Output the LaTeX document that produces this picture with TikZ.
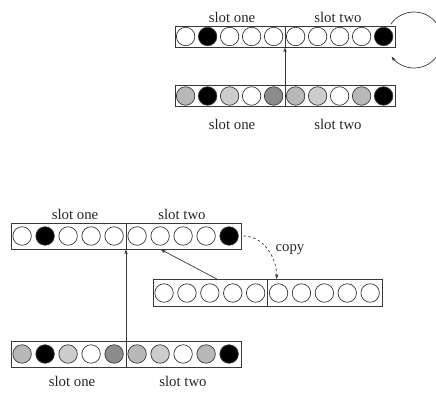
\documentclass[tikz,border=0pt]{standalone}
\usepackage{fontspec}
\setmainfont{Liberation Serif}
\usetikzlibrary{arrows.meta,calc}

\definecolor{ink}{gray}{0.22}
\definecolor{g1}{gray}{0.80}
\definecolor{g2}{gray}{0.72}
\definecolor{g3}{gray}{0.55}

\tikzset{
  slotbox/.style={draw=ink, line width=0.8pt, inner sep=0pt, rectangle},
  dot/.style={circle, draw=ink, line width=0.7pt, inner sep=0pt, minimum size=#1},
  dot/.default=18.5,
  lbl/.style={font=\fontsize{14.8}{17}\selectfont, text=black!85, inner sep=0pt},
  link/.style={draw=ink, line width=0.7pt, -{Stealth[length=5pt,width=3.5pt]}},
  copylink/.style={link, dashed, dash pattern=on 2.5pt off 2.5pt},
}

% one row of ten units: name, centre, pitch, height, fill list
\newcommand\unitrow[6]{%
  \node[slotbox, minimum width=10*#4, minimum height=#5] (#1) at (#2,#3) {};
  \draw[ink, line width=0.8pt] (#1.north) -- (#1.south);
  \foreach \f [count=\i] in {#6}
    \node[dot, fill=\f] (#1\i) at ($(#1.west)+(\i*#4-#4/2,0)$) {};
}

\begin{document}
\begin{tikzpicture}[x=1pt, y=-1pt]
  \useasboundingbox (0,0) rectangle (436,393);

  % ---- upper figure: recurrent loop on the output row ----
  \unitrow{A}{285}{36.5}{22}{21}{white,black,white,white,white,white,white,white,white,black}
  \unitrow{B}{285}{96}{22}{21}{g2,black,g1,white,g3,g2,g1,white,g2,black}

  \node[lbl] (Aone) at (232,17) {slot one};
  \node[lbl] (Atwo) at (338,17) {slot two};
  \node[lbl] (Bone) at (232,124) {slot one};
  \node[lbl] (Btwo) at (338,124) {slot two};

  \draw[link] (B.north) -- (A.south);
  % self loop round the right end of the output row
  \draw[link] plot[domain=214:503.5, samples=60, smooth]
      ({414+28*cos(\x)},{40+28*sin(\x)});

  % ---- lower figure: copied context row ----
  \unitrow{C}{126}{236}{23}{26}{white,black,white,white,white,white,white,white,white,black}
  \unitrow{D}{267.5}{293}{22.9}{27}{white,white,white,white,white,white,white,white,white,white}
  \unitrow{E}{126}{354}{23}{26}{g2,black,g1,white,g3,g2,g1,white,g2,black}

  \node[lbl] (Cone) at (75,214) {slot one};
  \node[lbl] (Ctwo) at (182,214) {slot two};
  \node[lbl] (Eone) at (72,381) {slot one};
  \node[lbl] (Etwo) at (183,381) {slot two};
  \node[lbl] (copy) at (290,250) {copy};

  \coordinate (Dout) at ($(D.north west)!0.28!(D.north east)$);
  \coordinate (Cin) at ($(C.south west)!0.65!(C.south east)$);
  \coordinate (Dcopy) at ($(D.north west)!0.54!(D.north east)$);

  \draw[link] (E.north) -- (C.south);
  \draw[link] (Dout) -- (Cin);
  \draw[copylink] ([xshift=2pt]C.east) .. controls +(20,0) and +(0,-22) .. (Dcopy);
\end{tikzpicture}
\end{document}
